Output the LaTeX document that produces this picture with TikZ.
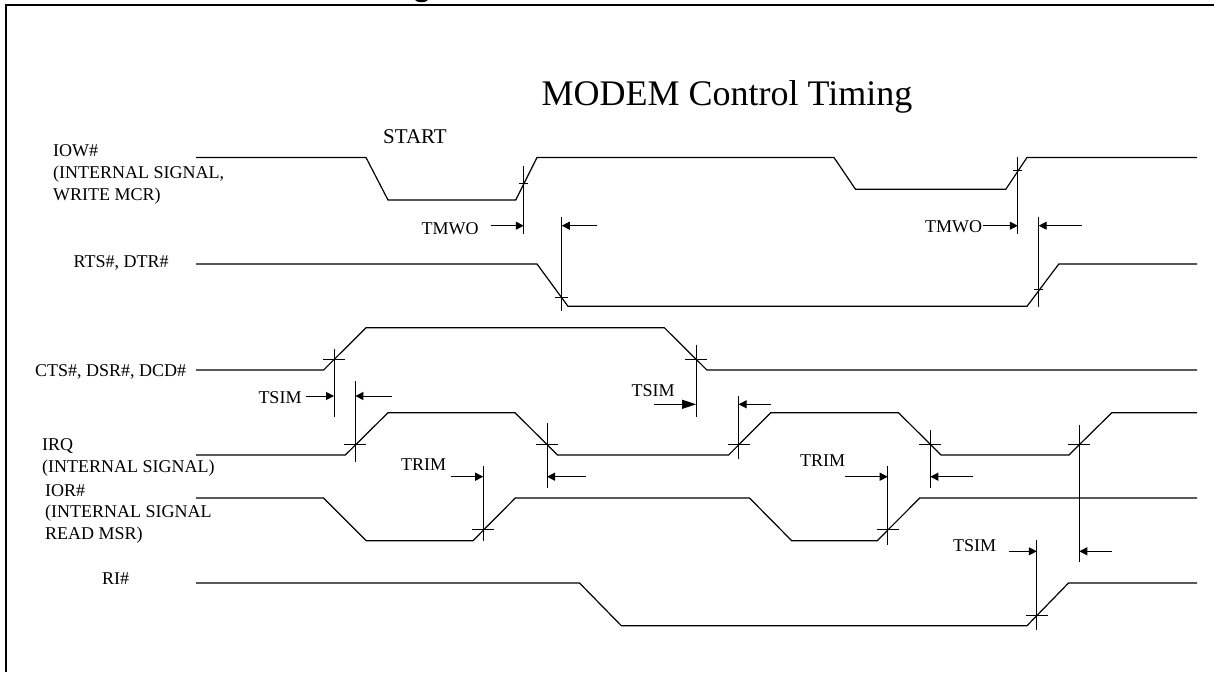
\documentclass[tikz,border=0pt]{standalone}
\usepackage{fontspec}
\setmainfont{Liberation Serif}
\usetikzlibrary{arrows.meta}

\tikzset{
  wave/.style={line width=1.2pt, line join=miter},
  marker/.style={line width=1pt},
  dim/.style={line width=1pt, -{Triangle[length=8pt,width=8pt]}},
  bigdim/.style={line width=1pt, -{Triangle[length=14pt,width=9pt]}},
  lbl/.style={inner sep=0pt, anchor=base west, align=left, font=\fontsize{18}{22}\selectfont},
  val/.style={inner sep=0pt, anchor=base, font=\fontsize{18}{22}\selectfont},
}

\begin{document}
\begin{tikzpicture}[x=1pt, y=-1pt]
    \useasboundingbox (0,0) rectangle (1214,672);
    \fill[white] (0,0) rectangle (1214,672);

    % frame, open on the right and at the bottom
    \draw[line width=2.4pt] (6,672) -- (6,5) -- (1214,5);
    \fill (415,0) .. controls (417,3) and (426,3) .. (428,0) -- cycle;

    \node[inner sep=0pt, anchor=base, font=\fontsize{36}{40}\selectfont] (title) at (727,105) {MODEM Control Timing};
    \node[inner sep=0pt, anchor=base, font=\fontsize{21}{24}\selectfont] (start) at (415,143) {START};

    % signal names
    \node[lbl] (iow) at (53,156) {IOW\#};
    \node[lbl] (iowa) at (53,178) {(INTERNAL SIGNAL,};
    \node[lbl] (iowb) at (53,200) {WRITE MCR)};
    \node[lbl] (rts) at (73.5,267) {RTS\#, DTR\#};
    \node[lbl] (cts) at (35,376) {CTS\#, DSR\#, DCD\#};
    \node[lbl] (irq) at (42,450) {IRQ};
    \node[lbl] (irqa) at (42,472) {(INTERNAL SIGNAL)};
    \node[lbl] (ior) at (45,496) {IOR\#};
    \node[lbl] (iora) at (45,517) {(INTERNAL SIGNAL};
    \node[lbl] (iorb) at (45,539) {READ MSR)};
    \node[lbl] (ri) at (102,584) {RI\#};

    % waveforms
    \draw[wave] (196,157.5) -- (366,157.5) -- (388,200) -- (515.7,200) -- (537,157.5) -- (834,157.5)
      -- (855.5,189.3) -- (1005.8,189.3) -- (1027,157.5) -- (1197,157.5);
    \draw[wave] (196,264) -- (537,264) -- (568,306.3) -- (1027,306.3) -- (1058.8,264) -- (1197,264);
    \draw[wave] (196,370) -- (323.6,370) -- (366,327.7) -- (664.3,327.7) -- (706.9,370) -- (1197,370);
    \draw[wave] (196,455) -- (345.3,455) -- (388,412.7) -- (515,412.7) -- (557.5,455) -- (728.6,455)
      -- (770.8,412.7) -- (898.5,412.7) -- (941,455) -- (1068.9,455) -- (1111.8,412.7) -- (1197,412.7);
    \draw[wave] (196,498) -- (323.6,498) -- (366.2,540.7) -- (473,540.7) -- (515.3,498) -- (749.5,498)
      -- (791.7,540.7) -- (877.2,540.7) -- (919.8,498) -- (1197,498);
    \draw[wave] (196,583) -- (579.5,583) -- (621.3,625.7) -- (1027,625.7) -- (1068.5,583) -- (1197,583);

    % timing marks: x, top, bottom, y of the cross bar, half width of the bar
    \foreach \x/\top/\bot/\bar/\hw in {
        523.8/166/234.3/183.3/4.5, 561.8/217/310.7/297.7/6.5,
        1017.8/156.7/234.3/170/4.5, 1038.7/217/306.7/289.3/4.5,
        334/348.7/417/359.7/11, 355.4/381/462/444.7/11,
        696/344.7/417/359.7/11, 738.6/396/459.3/444.7/11,
        547/423.3/487.7/444.7/11, 930.3/430/487.7/444.7/11,
        1079.3/425.3/562/444.7/11, 483.2/466/541/529.7/11,
        887.7/466/545/529.7/11, 1036.8/540.3/630.3/615/11} {
      \draw[marker] (\x,\top) -- (\x,\bot);
      \draw[marker] (\x-\hw,\bar) -- (\x+\hw,\bar);
    }

    % TMWO
    \node[val] (tmwoa) at (450,234.5) {TMWO};
    \draw[dim] (491,225.7) -- (523.8,225.7);
    \draw[dim] (596.6,225.7) -- (561.8,225.7);
    \node[val] (tmwob) at (953.7,232) {TMWO};
    \draw[dim] (983.3,225.7) -- (1017.8,225.7);
    \draw[dim] (1081.6,225.7) -- (1038.7,225.7);

    % TSIM
    \node[val] (tsima) at (280,403) {TSIM};
    \draw[dim] (306,396) -- (334,396);
    \draw[dim] (392,396) -- (355.4,396);
    \node[val] (tsimb) at (653,396) {TSIM};
    \draw[bigdim] (653.5,404.3) -- (696,404.3);
    \draw[dim] (771,404.3) -- (738.6,404.3);
    \node[val] (tsimc) at (974.6,551) {TSIM};
    \draw[dim] (1008.9,551.3) -- (1036.8,551.3);
    \draw[dim] (1111.8,551.3) -- (1079.3,551.3);

    % TRIM
    \node[val] (trima) at (423.5,470) {TRIM};
    \draw[dim] (451,476.7) -- (483.2,476.7);
    \draw[dim] (585.8,476.7) -- (547,476.7);
    \node[val] (trimb) at (822.7,466) {TRIM};
    \draw[dim] (845,476.7) -- (887.7,476.7);
    \draw[dim] (973.2,476.7) -- (930.3,476.7);
  \end{tikzpicture}
\end{document}
